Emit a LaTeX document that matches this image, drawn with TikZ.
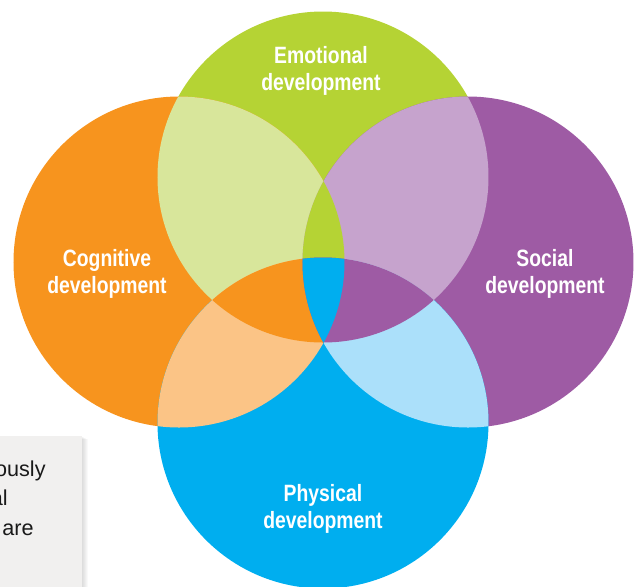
\documentclass[tikz,border=0pt]{standalone}
\usepackage{fontspec}
\usepackage{tikz}
\usepackage{xcolor}
\newfontfamily\labelfont[FakeStretch=0.82]{Liberation Sans}
\newfontfamily\boxfont{Liberation Sans}
\definecolor{emog}{HTML}{B5D334}
\definecolor{emolt}{HTML}{D8E69B}
\definecolor{cogo}{HTML}{F7941E}
\definecolor{coglt}{HTML}{FBC486}
\definecolor{socp}{HTML}{9E5BA4}
\definecolor{soclt}{HTML}{C6A3CD}
\definecolor{phyb}{HTML}{00AEEF}
\definecolor{phylt}{HTML}{ABE0FA}
\definecolor{boxgray}{HTML}{F1F0EF}
\newcommand{\discR}{165.5}
\newcommand{\disc}[1]{(#1) circle[radius=\discR]}

\begin{document}
\begin{tikzpicture}[x=0.5pt,y=-0.5pt,
  lbl/.style={text=white,align=center,inner sep=0pt,
    font=\labelfont\bfseries\fontsize{11.8}{13.7}\selectfont},
  boxtext/.style={text=black!90,inner sep=0pt,font=\boxfont\fontsize{10.8}{15}\selectfont}]
\useasboundingbox (0,0) rectangle (634,586);
\clip (0,0) rectangle (634,586);
% circle centres
\coordinate (ce) at (323,177);
\coordinate (cc) at (179,262);
\coordinate (cs) at (468,262);
\coordinate (cp) at (323,423);
% note box (cut off at the left edge)
\foreach \s in {1,...,6}
  \fill[black,opacity=0.025] (-10,436+0.5*\s) rectangle (82+\s,600);
\fill[boxgray] (-10,436) rectangle (82,600);
\node[boxtext,anchor=base east](t1) at (46,476){ously};
\node[boxtext,anchor=base east](t2) at (8,505){al};
\node[boxtext,anchor=base east](t3) at (34,535){are};
% the four circles
\fill[emog] \disc{ce};
\fill[cogo] \disc{cc};
\fill[socp] \disc{cs};
\fill[phyb] \disc{cp};
% pairwise overlaps
\begin{scope}\clip \disc{ce}; \fill[emolt] \disc{cc}; \fill[soclt] \disc{cs};\end{scope}
\begin{scope}\clip \disc{cp}; \fill[coglt] \disc{cc}; \fill[phylt] \disc{cs};\end{scope}
% triple overlaps
\begin{scope}\clip \disc{ce}; \clip \disc{cc}; \fill[emog] \disc{cs};\end{scope}
\begin{scope}\clip \disc{ce}; \clip \disc{cp}; \fill[cogo] \disc{cc}; \fill[socp] \disc{cs};\end{scope}
% all four
\begin{scope}\clip \disc{ce}; \clip \disc{cc}; \clip \disc{cs}; \fill[phyb] \disc{cp};\end{scope}
% labels
\node[lbl](le) at (321,71){Emotional\\development};
\node[lbl](lc) at (107,274){Cognitive\\development};
\node[lbl](ls) at (545,274){Social\\development};
\node[lbl](lp) at (323,509){Physical\\development};
\end{tikzpicture}
\end{document}
